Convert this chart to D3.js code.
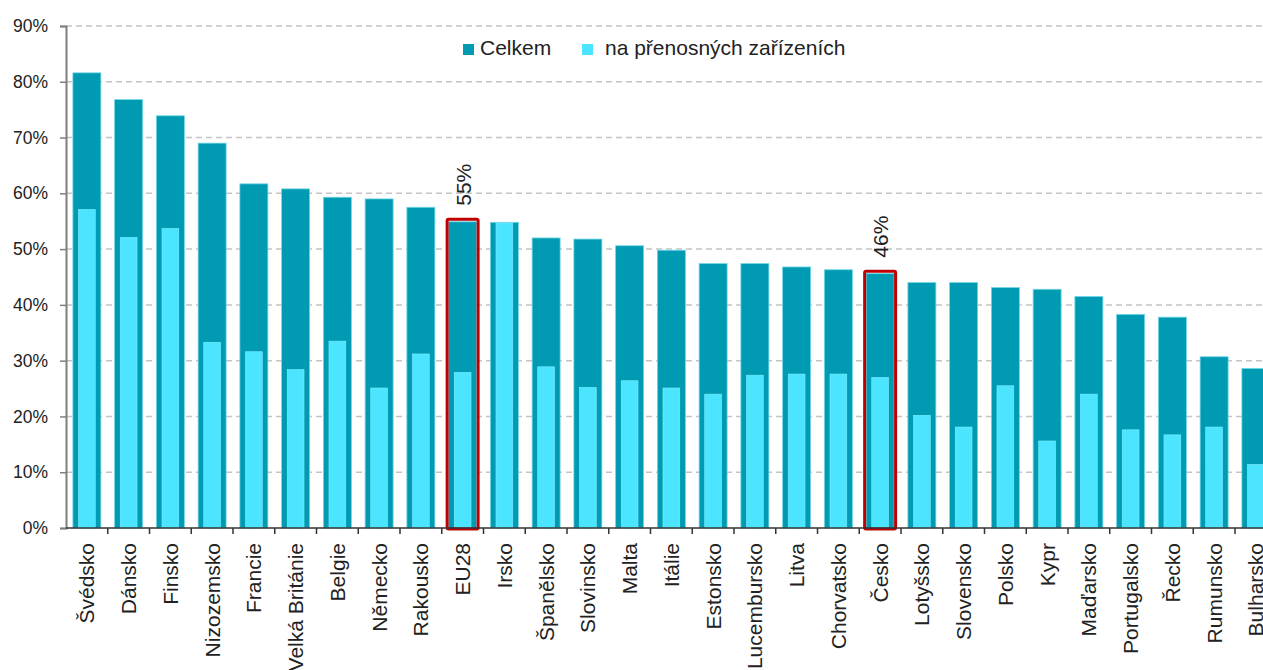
<!DOCTYPE html>
<html>
<head>
<meta charset="utf-8">
<script src="https://cdn.jsdelivr.net/npm/d3@7"></script>
<style>
  body { margin: 0; background: #fff; }
  svg text { font-family: "Liberation Sans", Arial, sans-serif; fill: #222; }
</style>
</head>
<body>
<div id="chart"></div>
<script>
// countries, sorted by total share
const countries = ["Švédsko", "Dánsko", "Finsko", "Nizozemsko", "Francie", "Velká Británie",
  "Belgie", "Německo", "Rakousko", "EU28", "Irsko", "Španělsko", "Slovinsko", "Malta", "Itálie",
  "Estonsko", "Lucembursko", "Litva", "Chorvatsko", "Česko", "Lotyšsko", "Slovensko", "Polsko",
  "Kypr", "Maďarsko", "Portugalsko", "Řecko", "Rumunsko", "Bulharsko"];

// Celkem (%)
const total = [81.6, 76.8, 73.9, 69.0, 61.7, 60.8, 59.3, 59.0, 57.5, 54.9, 54.8, 52.0, 51.8,
  50.6, 49.8, 47.4, 47.4, 46.8, 46.3, 45.6, 44.0, 44.0, 43.1, 42.8, 41.5, 38.3, 37.8, 30.7, 28.6];

// na přenosných zařízeních (%)
const mobile = [57.1, 52.1, 53.7, 33.3, 31.6, 28.4, 33.5, 25.1, 31.2, 27.9, 54.7, 28.9, 25.2,
  26.4, 25.1, 24.0, 27.4, 27.6, 27.6, 27.0, 20.2, 18.1, 25.5, 15.6, 24.0, 17.6, 16.7, 18.1, 11.4];

const highlighted = ["EU28", "Česko"];
const yTicks = [0, 10, 20, 30, 40, 50, 60, 70, 80, 90];

const width = 1263, height = 670;
const plotLeft = 66, plotTop = 26, plotBottom = 528;
const step = 41.75;

const darkColor = "#009ab2";
const lightColor = "#4be5ff";

const svg = d3.select("#chart").append("svg")
  .attr("width", width)
  .attr("height", height);

const x = d3.scaleBand()
  .domain(countries)
  .range([plotLeft, plotLeft + countries.length * step])
  .paddingInner(0.33)
  .paddingOuter(0.165);

const y = d3.scaleLinear()
  .domain([0, 90])
  .range([plotBottom, plotTop]);

// gridlines
svg.append("g")
  .selectAll("line")
  .data(yTicks.filter(t => t > 0))
  .join("line")
  .attr("x1", plotLeft)
  .attr("x2", width)
  .attr("y1", d => y(d))
  .attr("y2", d => y(d))
  .attr("stroke", "#c4c4c4")
  .attr("stroke-width", 1.5)
  .attr("stroke-dasharray", "6,4");

// total bars
svg.append("g")
  .selectAll("rect")
  .data(countries)
  .join("rect")
  .attr("x", d => x(d))
  .attr("width", x.bandwidth())
  .attr("y", (d, i) => y(total[i]))
  .attr("height", (d, i) => plotBottom - y(total[i]))
  .attr("fill", darkColor)
  .attr("stroke", "#6fd6e6")
  .attr("stroke-width", 0.8);

// mobile bars
const innerW = x.bandwidth() * 0.6;
svg.append("g")
  .selectAll("rect")
  .data(countries)
  .join("rect")
  .attr("x", d => x(d) + (x.bandwidth() - innerW) / 2)
  .attr("width", innerW)
  .attr("y", (d, i) => y(mobile[i]))
  .attr("height", (d, i) => plotBottom - y(mobile[i]))
  .attr("fill", lightColor)
  .attr("stroke", "#7feeff")
  .attr("stroke-width", 0.6);

// red boxes + value labels
highlighted.forEach(name => {
  const i = countries.indexOf(name);
  const bx = x(name);
  svg.append("rect")
    .attr("x", bx - 1.5)
    .attr("y", y(total[i]) - 2.5)
    .attr("width", x.bandwidth() + 3)
    .attr("height", plotBottom - y(total[i]) + 3.5)
    .attr("fill", "none")
    .attr("stroke", "#c00000")
    .attr("stroke-width", 3)
    .attr("rx", 1.5);

  const cx = bx + x.bandwidth() / 2 + 8;
  const cy = y(total[i]) - 16;
  svg.append("text")
    .attr("transform", `translate(${cx},${cy}) rotate(-90)`)
    .attr("font-size", "21px")
    .text(Math.round(total[i]) + "%");
});

// y axis
const yAxis = svg.append("g")
  .attr("transform", `translate(${plotLeft},0)`)
  .call(d3.axisLeft(y).tickValues(yTicks).tickFormat(d => d + "%").tickSize(6).tickPadding(12));
yAxis.select(".domain").attr("stroke", "#7f7f7f").attr("stroke-width", 2);
yAxis.selectAll(".tick line").attr("stroke", "#7f7f7f").attr("stroke-width", 1.5);
yAxis.selectAll("text").attr("font-size", "17.5px").attr("fill", "#222");

// x axis baseline + ticks at band boundaries
svg.append("line")
  .attr("x1", plotLeft).attr("x2", width)
  .attr("y1", plotBottom).attr("y2", plotBottom)
  .attr("stroke", "#333").attr("stroke-width", 1.5);

svg.append("g")
  .selectAll("line")
  .data(countries)
  .join("line")
  .attr("x1", d => x(d) - x.step() * x.paddingInner() / 2 + x.step())
  .attr("x2", d => x(d) - x.step() * x.paddingInner() / 2 + x.step())
  .attr("y1", plotBottom)
  .attr("y2", plotBottom + 6)
  .attr("stroke", "#333")
  .attr("stroke-width", 1.5);

// category labels
svg.append("g")
  .selectAll("text")
  .data(countries)
  .join("text")
  .attr("transform", d => `translate(${x(d) + x.bandwidth() / 2 + 7.5},${plotBottom + 15}) rotate(-90)`)
  .attr("text-anchor", "end")
  .attr("font-size", "21px")
  .text(d => d);

// legend
const legend = svg.append("g");
const legendItems = [
  { label: "Celkem", color: darkColor, sx: 463, tx: 480 },
  { label: "na přenosných zařízeních", color: lightColor, sx: 582, tx: 605 }
];
legendItems.forEach(it => {
  legend.append("rect")
    .attr("x", it.sx).attr("y", 44)
    .attr("width", 11).attr("height", 11)
    .attr("fill", it.color);
  legend.append("text")
    .attr("x", it.tx).attr("y", 55)
    .attr("font-size", "21px")
    .text(it.label);
});
</script>
</body>
</html>
